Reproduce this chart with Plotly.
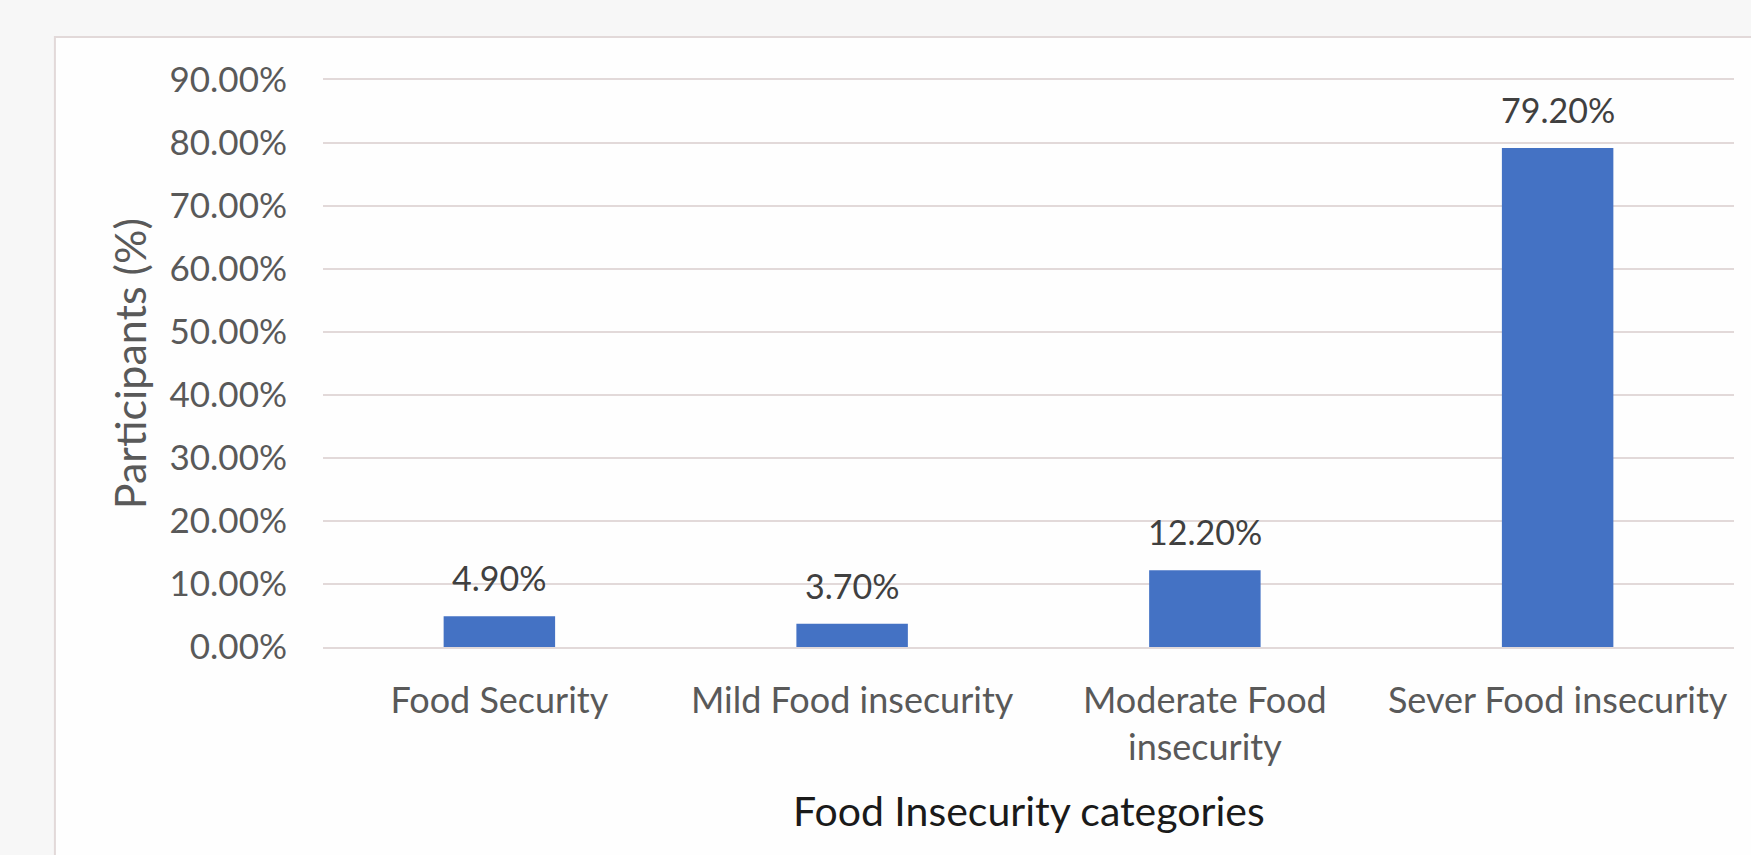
import plotly.graph_objects as go

# Food insecurity categories and share of participants (%)
categories = ["Food Security", "Mild Food insecurity", "Moderate Food<br>insecurity", "Sever Food insecurity"]
participants_pct = [4.90, 3.70, 12.20, 79.20]
y_ticks = [0, 10, 20, 30, 40, 50, 60, 70, 80, 90]

FONT = "Lato"
TICK_COLOR = "#595959"
LABEL_COLOR = "#404040"
GRID_COLOR = "#e2d9d9"
BAR_COLOR = "#4472C4"

fig = go.Figure()
fig.add_trace(go.Bar(
    x=categories,
    y=[v / 100 for v in participants_pct],
    marker=dict(color=BAR_COLOR, line=dict(width=0)),
    hoverinfo="skip",
))

# value labels above each bar
for cat, v in zip(categories, participants_pct):
    fig.add_annotation(
        x=cat, y=v / 100, xref="x", yref="y",
        text=f"{v:.2f}%", showarrow=False,
        yanchor="bottom", yshift=16,
        font=dict(family=FONT, size=34, color=LABEL_COLOR),
    )

# axis titles
fig.add_annotation(
    x=-0.137, y=0.5, xref="paper", yref="paper",
    text="Participants (%)", textangle=-90, showarrow=False,
    xanchor="center", yanchor="middle",
    font=dict(family=FONT, size=43, color=TICK_COLOR),
)
fig.add_annotation(
    x=0.5, y=-0.289, xref="paper", yref="paper",
    text="Food Insecurity categories", showarrow=False,
    xanchor="center", yanchor="middle",
    font=dict(family=FONT, size=41, color="#1a1a1a"),
)

# chart frame
fig.add_shape(
    type="rect", xref="paper", yref="paper",
    x0=-0.19, x1=1.05, y0=-0.45, y1=1.0758,
    line=dict(color="#e2d9d9", width=2), fillcolor="#fefefe", layer="below",
)

fig.update_layout(
    width=1751, height=855,
    margin=dict(l=323, r=17, t=80, b=208),
    paper_bgcolor="#f7f7f7",
    plot_bgcolor="rgba(0,0,0,0)",
    bargap=0.684,
    showlegend=False,
    font=dict(family=FONT, size=34, color=TICK_COLOR),
    xaxis=dict(
        showgrid=False, zeroline=False,
        showline=True, linecolor=GRID_COLOR, linewidth=2, mirror=True,
        tickfont=dict(family=FONT, size=36, color=TICK_COLOR),
        ticklabelstandoff=21,
    ),
    yaxis=dict(
        range=[0, 0.9],
        tickvals=[t / 100 for t in y_ticks],
        tickformat=".2%",
        showgrid=True, gridcolor=GRID_COLOR, gridwidth=2,
        zeroline=False, showline=False,
        tickfont=dict(family=FONT, size=35, color=TICK_COLOR),
        ticklabelstandoff=35,
    ),
)

fig.write_html("out.html")
